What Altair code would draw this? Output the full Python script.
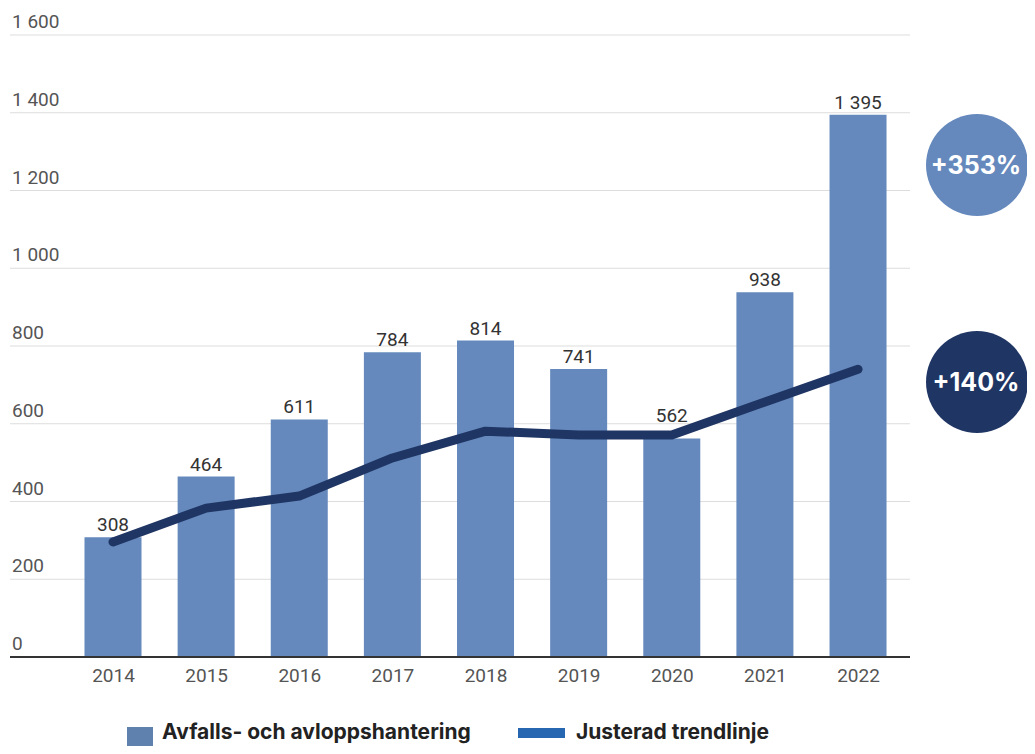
import altair as alt
import pandas as pd

years = [2014, 2015, 2016, 2017, 2018, 2019, 2020, 2021, 2022]
values = [308, 464, 611, 784, 814, 741, 562, 938, 1395]
value_labels = ["308", "464", "611", "784", "814", "741", "562", "938", "1 395"]
trend = [296, 383, 414, 512, 581, 571, 571, 656, 740]
y_ticks = [0, 200, 400, 600, 800, 1000, 1200, 1400, 1600]
y_tick_labels = ["0", "200", "400", "600", "800", "1 000", "1 200", "1 400", "1 600"]
badge_labels = ["+353%", "+140%"]
legend_labels = ["Avfalls- och avloppshantering", "Justerad trendlinje"]

BAR = "#6589bd"
NAVY = "#1f3564"
LEG_LINE = "#2766b1"

df = pd.DataFrame({"year": years, "value": values, "label": value_labels, "trend": trend})
ticks = pd.DataFrame({"v": y_ticks, "t": y_tick_labels})

xs = alt.Scale(domain=[2012.894, 2022.558], nice=False, zero=False, padding=0)
ys = alt.Scale(domain=[0, 1600], nice=False, padding=0)
x_axis = alt.Axis(values=years, format="d", grid=False, domain=False, ticks=False,
                  labelFontSize=19, labelColor="#555555", labelFont="Roboto",
                  labelPadding=9, labelFlush=False, title=None)

base = alt.Chart(df)

grid = alt.Chart(ticks[ticks.v > 0]).mark_rule(color="#dddddd", strokeWidth=1).encode(
    x=alt.value(0), x2=alt.value(900), y=alt.Y("v:Q", scale=ys, axis=None)
)

bars = base.mark_bar(width=57, color=BAR).encode(
    x=alt.X("year:Q", scale=xs, axis=x_axis),
    y=alt.Y("value:Q", scale=ys, axis=None),
)

zero = alt.Chart(ticks[ticks.v == 0]).mark_rule(color="#333333", strokeWidth=2).encode(
    x=alt.value(0), x2=alt.value(900), y=alt.Y("v:Q", scale=ys, axis=None)
)

line = base.mark_line(color=NAVY, strokeWidth=9, strokeCap="round", strokeJoin="round").encode(
    x=alt.X("year:Q", scale=xs, axis=x_axis), y=alt.Y("trend:Q", scale=ys, axis=None)
)

labels = base.transform_calculate(
    ly="datum.trend > datum.value ? datum.trend + 18 : datum.value"
).mark_text(baseline="alphabetic", dy=-6, fontSize=19, font="Roboto", color="#333333").encode(
    x=alt.X("year:Q", scale=xs, axis=x_axis), y=alt.Y("ly:Q", scale=ys, axis=None), text="label:N"
)

ylabels = alt.Chart(ticks).mark_text(align="left", baseline="alphabetic", dy=-7, dx=2,
                                     fontSize=19, font="Roboto", color="#555555").encode(
    x=alt.value(0), y=alt.Y("v:Q", scale=ys, axis=None), text="t:N"
)

b1 = pd.DataFrame({"t": [badge_labels[0]]})
b2 = pd.DataFrame({"t": [badge_labels[1]]})
c1 = alt.Chart(b1).mark_circle(size=10400, color=BAR, opacity=1).encode(x=alt.value(967), y=alt.value(130))
t1 = alt.Chart(b1).mark_text(fontSize=25, fontWeight="bold", font="Inter", color="white").encode(
    x=alt.value(966), y=alt.value(131), text="t:N")
c2 = alt.Chart(b2).mark_circle(size=10400, color=NAVY, opacity=1).encode(x=alt.value(967), y=alt.value(347))
t2 = alt.Chart(b2).mark_text(fontSize=25, fontWeight="bold", font="Inter", color="white").encode(
    x=alt.value(966), y=alt.value(348), text="t:N")

lg1 = pd.DataFrame({"t": [legend_labels[0]]})
lg2 = pd.DataFrame({"t": [legend_labels[1]]})
sw1 = alt.Chart(lg1).mark_rect(color="#5e81ad").encode(
    x=alt.value(117), x2=alt.value(143), y=alt.value(692), y2=alt.value(711))
lt1 = alt.Chart(lg1).mark_text(align="left", baseline="alphabetic", fontSize=21, fontWeight="bold",
                               font="Inter", color="#222222").encode(
    x=alt.value(152), y=alt.value(704), text="t:N")
sw2 = alt.Chart(lg2).mark_rule(color=LEG_LINE, strokeWidth=10).encode(
    x=alt.value(508), x2=alt.value(555), y=alt.value(698))
lt2 = alt.Chart(lg2).mark_text(align="left", baseline="alphabetic", fontSize=21, fontWeight="bold",
                               font="Inter", color="#222222").encode(
    x=alt.value(566), y=alt.value(704), text="t:N")

chart = alt.layer(grid, bars, zero, line, labels, ylabels, c1, t1, c2, t2, sw1, lt1, sw2, lt2).properties(
    width=900, height=622,
    background="white",
    autosize=alt.AutoSizeParams(type="none"),
    padding={"left": 2, "top": 27, "right": 117, "bottom": 89},
).configure_view(strokeWidth=0, stroke="transparent")

chart.save("out.html", embed_options={"renderer": "svg", "actions": False})
